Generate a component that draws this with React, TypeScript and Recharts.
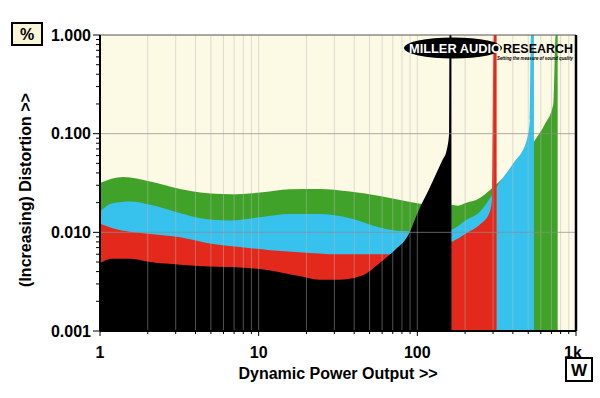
import React from 'react';
import { ComposedChart, Area, XAxis, YAxis, CartesianGrid, ReferenceLine } from 'recharts';

// [watts, distortion %], one array per trace
const greenPts: [number, number][] = [
  [1, 0.0316], [1.4, 0.0363], [2.07, 0.0327], [3.2, 0.0275], [4.3, 0.0253], [6.6, 0.0243],
  [10.2, 0.0253], [15.7, 0.0273], [24, 0.0275], [37.6, 0.0259], [58, 0.0234], [78, 0.0213],
  [104, 0.0195], [130, 0.0188], [164, 0.019], [180, 0.0186], [204, 0.0199], [248, 0.0223],
  [286, 0.0267], [350, 0.036], [430, 0.05], [543, 0.083], [637, 0.125], [720, 0.2],
  [745, 1.0], [766, 1.0],
];
const bluePts: [number, number][] = [
  [1, 0.0162], [1.2, 0.0197], [1.55, 0.0205], [2.07, 0.019], [3.2, 0.0156], [4.3, 0.0139],
  [6.6, 0.0132], [10.2, 0.0142], [15.7, 0.0153], [24, 0.0153], [37.6, 0.0139], [58, 0.0112],
  [78, 0.0103], [100, 0.0102], [130, 0.0104], [164, 0.0107], [204, 0.0134], [248, 0.0162],
  [286, 0.022], [316, 0.029], [402, 0.05], [489, 0.086], [512, 0.138], [520, 1.0], [543, 1.0],
];
const redPts: [number, number][] = [
  [1, 0.0122], [1.2, 0.011], [2.07, 0.0096], [3.2, 0.0089], [4.9, 0.0077], [7.6, 0.0071],
  [11.8, 0.0066], [18, 0.0063], [32, 0.006], [58, 0.006], [80, 0.006], [100, 0.0065],
  [130, 0.0072], [164, 0.008], [204, 0.0098], [248, 0.012], [286, 0.016], [296, 0.022],
  [303, 1.0], [316, 1.0],
];
const blackPts: [number, number][] = [
  [1, 0.0049], [1.2, 0.0054], [1.55, 0.0054], [2.07, 0.005], [3.2, 0.0047], [4.9, 0.0045],
  [7.6, 0.0044], [11.8, 0.0041], [18, 0.0036], [24, 0.0033], [32, 0.0033], [44, 0.0036],
  [58, 0.0049], [72, 0.0066], [86, 0.0089], [104, 0.018], [118, 0.027], [132, 0.04],
  [144, 0.054], [153, 0.068], [158.5, 0.1], [159.5, 1.0], [164, 1.0],
];

const xTicks = [
  1, 2, 3, 4, 5, 6, 7, 8, 9, 10, 20, 30, 40, 50, 60, 70, 80, 90,
  100, 200, 300, 400, 500, 600, 700, 800, 900, 1000,
];
const yTicks = [
  0.001, 0.002, 0.003, 0.004, 0.005, 0.006, 0.007, 0.008, 0.009,
  0.01, 0.02, 0.03, 0.04, 0.05, 0.06, 0.07, 0.08, 0.09,
  0.1, 0.2, 0.3, 0.4, 0.5, 0.6, 0.7, 0.8, 0.9, 1,
];
const xLabels: Record<number, string> = { 1: '1', 10: '10', 100: '100', 1000: '1k' };
const yDecades = [0.001, 0.01, 0.1, 1];

const CREAM = '#fcf9e4';
const FONT = '"Liberation Sans", Arial, sans-serif';

const toRows = (pts: [number, number][]) => pts.map(([w, d]) => ({ w, d }));

const XTick = (props: any) => {
  const { x, y, payload } = props;
  const v = payload.value;
  const label = xLabels[v];
  return (
    <g>
      <line x1={x} x2={x} y1={y} y2={y + (label ? 5 : 3)} stroke="#000" />
      {label && (
        <text x={v === 1000 ? x - 3 : x} y={y + 27} textAnchor="middle"
          fontFamily={FONT} fontWeight="bold" fontSize={16} fill="#000">
          {label}
        </text>
      )}
    </g>
  );
};

const YTick = (props: any) => {
  const { x, y, payload } = props;
  const v = payload.value;
  const major = yDecades.some((d) => Math.abs(d - v) < 1e-9);
  return (
    <g>
      <line x1={x - (major ? 7 : 4)} x2={x} y1={y} y2={y} stroke="#000" />
      {major && (
        <text x={x - 9} y={y + 5.7} textAnchor="end"
          fontFamily={FONT} fontWeight="bold" fontSize={16} fill="#000">
          {v.toFixed(3)}
        </text>
      )}
    </g>
  );
};

export default function App() {
  const series = [
    { pts: greenPts, fill: '#41a229' },
    { pts: bluePts, fill: '#37c2ee' },
    { pts: redPts, fill: '#e3291b' },
    { pts: blackPts, fill: '#000000' },
  ];

  return (
    <div style={{ position: 'absolute', left: 0, top: 0, width: 600, height: 398, background: '#fff' }}>
      <ComposedChart width={600} height={398} margin={{ top: 35, right: 24, bottom: 0, left: 0 }}>
        <CartesianGrid fill={CREAM} horizontal={false} vertical={false} />
        <XAxis
          dataKey="w"
          type="number"
          scale="log"
          domain={[1, 1000]}
          allowDataOverflow
          ticks={xTicks}
          interval={0}
          height={67}
          tickSize={0}
          tickMargin={0}
          tickLine={false}
          tick={<XTick />}
          axisLine={{ stroke: '#000', strokeWidth: 2 }}
          label={{
            value: 'Dynamic Power Output >>',
            position: 'insideBottom',
            offset: 19,
            style: { fontFamily: FONT, fontWeight: 'bold', fontSize: 16, fill: '#000' },
          }}
        />
        <YAxis
          type="number"
          scale="log"
          domain={[0.001, 1]}
          allowDataOverflow
          ticks={yTicks}
          interval={0}
          width={100}
          tickSize={0}
          tickMargin={0}
          tickLine={false}
          tick={<YTick />}
          axisLine={{ stroke: '#000', strokeWidth: 2 }}
        />
        {series.map((s, i) => (
          <Area
            key={i}
            data={toRows(s.pts)}
            dataKey="d"
            type="monotoneX"
            baseValue={0.001}
            stroke="none"
            fill={s.fill}
            fillOpacity={1}
            dot={false}
            activeDot={false}
            isAnimationActive={false}
          />
        ))}
        {xTicks.slice(1, -1).map((t) => (
          <ReferenceLine key={'vx' + t} x={t} stroke="#b8b8b8" strokeOpacity={0.45} strokeWidth={1} />
        ))}
        {[0.01, 0.1].map((t) => (
          <ReferenceLine key={'hy' + t} y={t} stroke="#8c8c8c" strokeOpacity={0.7} strokeWidth={1} />
        ))}
        <ReferenceLine y={1} stroke="#555" strokeWidth={1} />
        <ReferenceLine x={1000} stroke="#000" strokeWidth={2.5} />
      </ComposedChart>

      <svg width={600} height={398} style={{ position: 'absolute', left: 0, top: 0, pointerEvents: 'none' }}>
        <rect x={12} y={23} width={30} height={22} fill="#faf5d6" stroke="#000" strokeWidth={2} />
        <text x={27} y={40} textAnchor="middle" fontFamily={FONT} fontWeight="bold" fontSize={16}>%</text>

        <rect x={566} y={358} width={26} height={23} fill="#fff" stroke="#000" strokeWidth={2} />
        <text x={579} y={376} textAnchor="middle" fontFamily={FONT} fontWeight="bold" fontSize={17}>W</text>

        <text x={31} y={190} textAnchor="middle" transform="rotate(-90 31 190)"
          fontFamily={FONT} fontWeight="bold" fontSize={16}>
          (Increasing) Distortion &gt;&gt;
        </text>

        <ellipse cx={453} cy={48} rx={49} ry={10.5} fill="#000" />
        <text x={409} y={52.5} fontFamily={FONT} fontWeight="900" fontSize={12.5} fill="#fff"
          textLength={92} lengthAdjust="spacingAndGlyphs">MILLER AUDIO</text>
        <text x={503} y={52.5} fontFamily={FONT} fontWeight="900" fontSize={12.5} fill="#000"
          textLength={70} lengthAdjust="spacingAndGlyphs">RESEARCH</text>
        <text x={497} y={60} fontFamily={FONT} fontWeight="bold" fontStyle="italic" fontSize={5}
          fill="#000" textLength={76} lengthAdjust="spacingAndGlyphs">Setting the measure of sound quality</text>
      </svg>
    </div>
  );
}
